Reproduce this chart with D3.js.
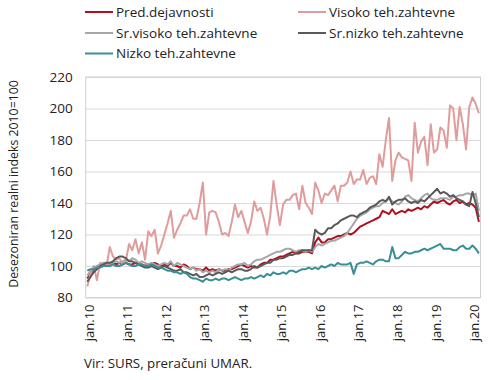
<!DOCTYPE html>
<html><head><meta charset="utf-8">
<script src="https://cdn.jsdelivr.net/npm/d3@7/dist/d3.min.js"></script>
<style>body{margin:0;background:#fff}svg{display:block}text{font-family:"Open Sans",sans-serif;fill:#222}</style>
</head><body><svg id="c" width="490" height="380"></svg>
<script>
const years = ["10","11","12","13","14","15","16","17","18","19","20"];
const monthNames = ["jan","feb","mar","apr","maj","jun","jul","avg","sep","okt","nov","dec"];
const tickLabels = ["jan.10","jan.11","jan.12","jan.13","jan.14","jan.15","jan.16","jan.17","jan.18","jan.19","jan.20"];
const yTicks = [80,100,120,140,160,180,200,220];
const seriesNames = ["Pred.dejavnosti","Visoko teh.zahtevne","Sr.visoko teh.zahtevne","Sr.nizko teh.zahtevne","Nizko teh.zahtevne"];

const pred = [92,95,97,98,100,100,101,101,102,101,102,101,102,101,101,102,101,101,100,101,101,102,101,100,
101,100,102,100,100,99,101,100,98,99,98,98,97,99,97,98,97,98,97,97,98,98,99,100,
101,100,99,100,99,99,101,102,102,104,104,105,106,106,107,108,109,108,108,109,109,109,108,115,
118,115,115,117,117,118,119,119,120,121,120,121,123,125,126,127,128,129,130,131,135,134,133,136,
133,134,135,134,136,135,136,137,136,138,137,139,141,140,141,142,140,139,141,142,140,141,139,140,139,137,128];
const visoko = [87,95,100,91,102,101,100,112,106,104,105,101,103,114,110,117,108,115,104,122,119,123,108,113,
120,127,135,118,123,127,132,132,136,130,130,140,153,120,134,135,134,128,120,121,119,128,139,131,
135,128,121,128,141,135,137,130,120,132,154,139,126,139,142,142,145,146,136,151,140,137,133,153,
148,140,146,145,148,151,141,151,151,153,160,152,155,155,161,152,156,157,152,171,163,180,194,154,
167,172,169,168,167,154,191,172,179,182,164,190,172,174,188,186,175,202,200,180,201,190,174,201,207,203,197];
const srVisoko = [94,97,99,100,101,102,102,101,102,103,102,103,104,103,105,104,102,103,102,101,102,101,100,101,
102,101,103,100,102,101,100,99,98,99,97,98,96,97,96,97,96,98,97,98,97,99,100,101,
101,102,100,101,103,104,104,105,106,107,108,109,109,110,111,111,110,109,110,110,109,110,109,112,
114,113,114,115,116,116,117,118,119,121,124,127,130,132,133,134,136,137,138,138,140,141,143,141,
140,139,141,144,145,143,142,141,143,145,146,143,142,142,143,143,143,142,144,144,145,145,146,146,145,146,135];
const srNizko = [90,93,96,98,100,101,102,102,103,105,106,106,105,103,103,102,101,100,99,99,100,99,98,99,
100,99,98,97,97,98,96,96,95,94,95,93,93,94,95,94,95,96,95,96,97,96,97,98,
98,97,97,98,100,99,100,101,102,102,104,104,105,105,106,107,107,108,109,110,110,110,110,123,
121,120,121,124,124,126,127,129,130,131,132,132,131,133,134,135,137,138,139,141,142,141,144,139,
141,142,142,143,141,140,141,140,142,141,143,145,147,149,146,147,146,144,145,143,142,141,139,138,147,140,131];
const nizko = [97,98,98,99,99,100,100,100,101,100,100,101,102,101,100,100,101,101,100,100,101,100,99,99,
98,97,97,96,96,95,96,95,93,92,92,91,90,92,91,91,92,91,92,92,91,92,93,92,
91,92,92,93,92,93,94,93,95,94,96,95,95,96,95,97,97,96,97,98,98,99,98,99,
98,100,99,100,101,100,102,101,101,101,102,95,101,102,102,103,102,101,103,104,104,103,103,112,
105,105,107,109,108,108,109,109,110,111,110,111,112,113,114,111,111,111,110,110,112,113,111,111,113,111,108];

const categories = [];
years.forEach(y => monthNames.forEach(m => categories.push(m + "." + y)));
const months = categories.slice(0, pred.length);
const allSeries = [pred, visoko, srVisoko, srNizko, nizko];
const colors = ["#b0101e","#e09c9c","#a6a6a6","#595959","#3a8e97"];

const svg = d3.select("#c");
const L = 85.7, R = 480.5, T = 77, B = 297.5;
const x = d3.scalePoint().domain(months).range([L, R]).padding(0.5);
const y = d3.scaleLinear().domain([80, 220]).range([B, T]);

// gridlines
svg.append("g").attr("transform", `translate(${L},0)`)
  .call(d3.axisLeft(y).tickValues(yTicks).tickSize(-(R - L)).tickFormat(""))
  .call(g => g.select(".domain").remove())
  .call(g => g.selectAll("line").attr("stroke", "#d9d9d9").attr("stroke-width", 1));
svg.append("rect").attr("x", L).attr("y", T).attr("width", R - L).attr("height", B - T)
  .attr("fill", "none").attr("stroke", "#d0d0d0").attr("stroke-width", 1);

// y axis labels
svg.append("g").attr("transform", `translate(${L},0)`)
  .call(d3.axisLeft(y).tickValues(yTicks).tickSize(0).tickPadding(13))
  .call(g => g.select(".domain").remove())
  .call(g => g.selectAll("text").style("font-size", "13.5px").style("font-family", '"Open Sans",sans-serif').attr("fill", "#222"));

// x axis labels
svg.append("g").attr("transform", `translate(0,${B})`)
  .call(d3.axisBottom(x).tickValues(tickLabels).tickSize(0))
  .call(g => g.select(".domain").remove())
  .call(g => g.selectAll("text")
    .style("font-size", "13px").style("font-family", '"Open Sans",sans-serif').attr("fill", "#222")
    .attr("transform", "rotate(-90)").attr("x", -7).attr("y", 1.5).attr("dy", "0.35em")
    .style("text-anchor", "end"));

// lines
const line = d3.line().x((d, i) => x(months[i])).y(d => y(d));
allSeries.forEach((s, k) => {
  svg.append("path").datum(s).attr("d", line).attr("fill", "none")
    .attr("stroke", colors[k]).attr("stroke-width", 2).attr("stroke-linejoin", "round");
});

// y title
svg.append("text").attr("transform", "translate(18,184) rotate(-90)")
  .attr("text-anchor", "middle").style("font-size", "12.3px")
  .text("Desezoniran realni indeks 2010=100");

// legend
const legPos = [[85, 12], [298, 12], [85, 33], [298, 33], [85, 53.5]];
seriesNames.forEach((n, k) => {
  const [lx, ly] = legPos[k];
  svg.append("line").attr("x1", lx).attr("x2", lx + 28).attr("y1", ly).attr("y2", ly)
    .attr("stroke", colors[k]).attr("stroke-width", 2);
  svg.append("text").attr("x", lx + 31).attr("y", ly).attr("dy", "0.35em")
    .style("font-size", "13.5px").text(n);
});

// source
svg.append("text").attr("x", 84).attr("y", 368).style("font-size", "13.3px")
  .text("Vir: SURS, preračuni UMAR.");
</script></body></html>
